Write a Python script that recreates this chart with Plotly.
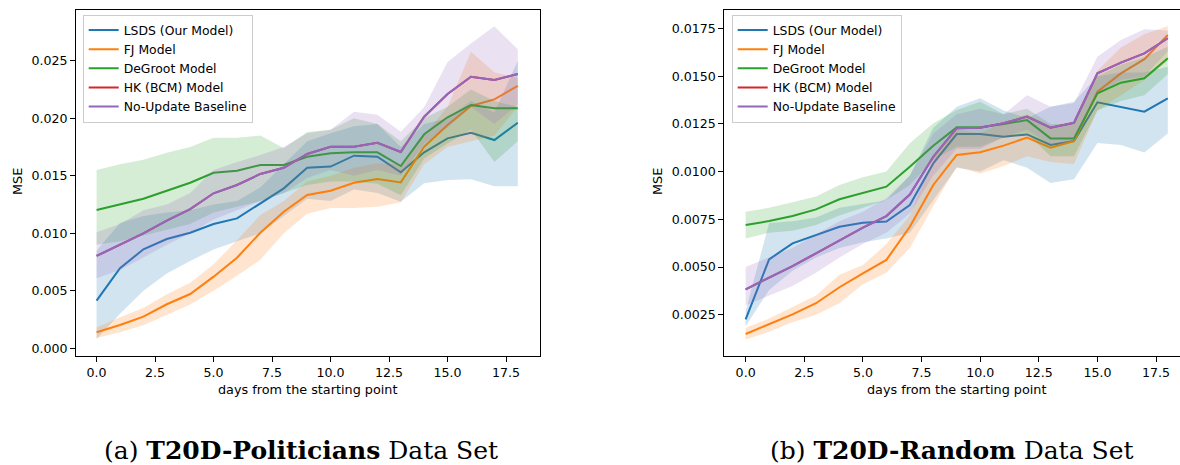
import plotly.graph_objects as go

days = list(range(19))
series_names = ["LSDS (Our Model)", "FJ Model", "DeGroot Model", "HK (BCM) Model", "No-Update Baseline"]
colors = ["#1f77b4", "#ff7f0e", "#2ca02c", "#d62728", "#9467bd"]
fills = ["rgba(31,119,180,0.2)", "rgba(255,127,14,0.2)", "rgba(44,160,44,0.2)", "rgba(214,39,40,0.2)", "rgba(148,103,189,0.2)"]

# ---------------- (a) T20D-Politicians ----------------
pol_lsds = [0.00414, 0.00696, 0.00861, 0.0095, 0.01005, 0.01081, 0.0113, 0.0126, 0.01391, 0.0157, 0.0158,
            0.01675, 0.01666, 0.0153, 0.01704, 0.01826, 0.01875, 0.01811, 0.01962]
pol_lsds_hi = [0.0085, 0.0109, 0.0115, 0.0118, 0.0120, 0.0125, 0.0128, 0.0140, 0.0160, 0.0180, 0.0187,
               0.0193, 0.0195, 0.0175, 0.0195, 0.0200, 0.0215, 0.0205, 0.0250]
pol_lsds_lo = [0.0008, 0.0030, 0.0050, 0.0065, 0.0076, 0.0086, 0.0093, 0.0100, 0.0115, 0.0130, 0.0128,
               0.0138, 0.0135, 0.01275, 0.01435, 0.01464, 0.0147, 0.0141, 0.0141]

pol_fj = [0.00139, 0.00203, 0.00275, 0.00383, 0.00472, 0.00623, 0.00788, 0.01005, 0.01188, 0.01333, 0.0137,
          0.0144, 0.01472, 0.01443, 0.01753, 0.01942, 0.02107, 0.02165, 0.02283]
pol_fj_hi = [0.0018, 0.0027, 0.0035, 0.0047, 0.0057, 0.0073, 0.0094, 0.0116, 0.0128, 0.0145, 0.0150,
             0.0157, 0.0161, 0.0160, 0.0185, 0.0210, 0.0258, 0.0240, 0.0235]
pol_fj_lo = [0.0009, 0.0014, 0.0020, 0.0029, 0.0038, 0.0050, 0.0063, 0.0077, 0.0100, 0.0117, 0.0122,
             0.0122, 0.0123, 0.0127, 0.0160, 0.0175, 0.0180, 0.0185, 0.0210]

pol_dg = [0.01203, 0.0125, 0.0130, 0.0137, 0.0144, 0.01527, 0.01544, 0.01594, 0.01594, 0.01666, 0.01696,
          0.01704, 0.01704, 0.01585, 0.01861, 0.02009, 0.02116, 0.02087, 0.02087]
pol_dg_hi = [0.0155, 0.0160, 0.0164, 0.0170, 0.0175, 0.0183, 0.0183, 0.0185, 0.0174, 0.0188, 0.0190,
             0.0200, 0.0195, 0.0180, 0.0200, 0.0210, 0.0225, 0.0215, 0.0210]
pol_dg_lo = [0.0090, 0.0093, 0.0098, 0.0103, 0.0108, 0.0118, 0.0123, 0.0128, 0.0135, 0.0142, 0.0145,
             0.0145, 0.0143, 0.0133, 0.0165, 0.0178, 0.0190, 0.0162, 0.0180]

pol_nu = [0.00803, 0.00898, 0.0100, 0.0111, 0.0121, 0.01348, 0.0142, 0.01516, 0.0157, 0.0169, 0.01753,
          0.01753, 0.01788, 0.01707, 0.02014, 0.02211, 0.02362, 0.02333, 0.02385]
pol_nu_hi = [0.0101, 0.0108, 0.0120, 0.0125, 0.0135, 0.0155, 0.0162, 0.0168, 0.0175, 0.0187, 0.0190,
             0.02057, 0.0203, 0.01883, 0.02096, 0.0249, 0.0265, 0.0280, 0.0260]
pol_nu_lo = [0.0061, 0.0068, 0.0079, 0.0090, 0.0100, 0.0112, 0.0120, 0.0128, 0.0135, 0.0148, 0.0155,
             0.0150, 0.0155, 0.0150, 0.0178, 0.0192, 0.0210, 0.0195, 0.0212]
pol_hk = pol_nu

# ---------------- (b) T20D-Random ----------------
rnd_lsds = [0.00226, 0.0054, 0.00624, 0.00668, 0.00711, 0.00732, 0.00738, 0.00825, 0.01043, 0.01197, 0.01197,
            0.01183, 0.01195, 0.0114, 0.0116, 0.01363, 0.01337, 0.01314, 0.01384]
rnd_lsds_hi = [0.0027, 0.0073, 0.0074, 0.0076, 0.0081, 0.0083, 0.0085, 0.0098, 0.0123, 0.0134, 0.01384,
               0.0132, 0.0128, 0.0134, 0.01366, 0.0150, 0.0152, 0.0152, 0.0155]
rnd_lsds_lo = [0.0019, 0.0038, 0.0048, 0.0055, 0.0060, 0.0063, 0.0065, 0.0068, 0.0085, 0.0102, 0.0100,
               0.0106, 0.0102, 0.0094, 0.0096, 0.0115, 0.0114, 0.0110, 0.0120]

rnd_fj = [0.00149, 0.00201, 0.00252, 0.0031, 0.00394, 0.00467, 0.00537, 0.00711, 0.0093, 0.01087, 0.01101,
          0.01136, 0.01178, 0.01125, 0.0116, 0.01419, 0.01515, 0.01589, 0.01716]
rnd_fj_hi = [0.0018, 0.0023, 0.0029, 0.0035, 0.0046, 0.0051, 0.0062, 0.0077, 0.0107, 0.0122, 0.0120,
             0.0126, 0.0130, 0.0124, 0.0126, 0.0153, 0.0165, 0.0172, 0.01763]
rnd_fj_lo = [0.0012, 0.0016, 0.0021, 0.0025, 0.0031, 0.0041, 0.0047, 0.0060, 0.0082, 0.01026, 0.0099,
             0.0103, 0.0108, 0.0105, 0.0104, 0.0132, 0.0140, 0.0148, 0.0158]

rnd_dg = [0.0072, 0.00741, 0.00767, 0.00802, 0.00855, 0.0089, 0.00921, 0.01026, 0.01136, 0.01232, 0.01232,
          0.0125, 0.0127, 0.01174, 0.01174, 0.0141, 0.01466, 0.01489, 0.01594]
rnd_dg_hi = [0.0079, 0.0081, 0.0084, 0.0087, 0.0093, 0.0097, 0.0100, 0.01148, 0.01253, 0.01323, 0.01366,
             0.0130, 0.0133, 0.0125, 0.0125, 0.0150, 0.0156, 0.0160, 0.01655]
rnd_dg_lo = [0.0065, 0.0068, 0.0069, 0.0072, 0.0077, 0.0081, 0.0085, 0.0093, 0.0106, 0.0113, 0.0113,
             0.0118, 0.0120, 0.0108, 0.0108, 0.0132, 0.0137, 0.0140, 0.0151]

rnd_nu = [0.00383, 0.00444, 0.00505, 0.00572, 0.00641, 0.00706, 0.00767, 0.0088, 0.01078, 0.01227, 0.0123,
          0.01253, 0.01288, 0.0123, 0.01256, 0.01515, 0.01571, 0.0162, 0.01699]
rnd_nu_hi = [0.0050, 0.0055, 0.0060, 0.0067, 0.0074, 0.0079, 0.0086, 0.0098, 0.0120, 0.0130, 0.0133,
             0.0130, 0.0140, 0.0134, 0.01358, 0.01602, 0.0169, 0.01746, 0.0174]
rnd_nu_lo = [0.0030, 0.0035, 0.0040, 0.0047, 0.0055, 0.0062, 0.0068, 0.0078, 0.0098, 0.0112, 0.0112,
             0.0118, 0.0122, 0.0114, 0.0116, 0.0141, 0.0148, 0.0150, 0.0163]
rnd_hk = rnd_nu

x_ticks = [0, 2.5, 5, 7.5, 10, 12.5, 15, 17.5]
pol_yticks = [0.0, 0.005, 0.010, 0.015, 0.020, 0.025]
rnd_yticks = [0.0025, 0.0050, 0.0075, 0.0100, 0.0125, 0.0150, 0.0175]

captions = ["(a) <b>T20D-Politicians</b> Data Set", "(b) <b>T20D-Random</b> Data Set"]
xlabel = "days from the starting point"
ylabel = "MSE"

fig = go.Figure()

panels = [
    ("x", "y", "legend",
     [pol_lsds, pol_fj, pol_dg, pol_hk, pol_nu],
     [(pol_lsds_lo, pol_lsds_hi), (pol_fj_lo, pol_fj_hi), (pol_dg_lo, pol_dg_hi), None, (pol_nu_lo, pol_nu_hi)]),
    ("x2", "y2", "legend2",
     [rnd_lsds, rnd_fj, rnd_dg, rnd_hk, rnd_nu],
     [(rnd_lsds_lo, rnd_lsds_hi), (rnd_fj_lo, rnd_fj_hi), (rnd_dg_lo, rnd_dg_hi), None, (rnd_nu_lo, rnd_nu_hi)]),
]

for xa, ya, lg, means, bands in panels:
    for i, name in enumerate(series_names):
        fig.add_trace(go.Scatter(x=days, y=means[i], mode="lines", name=name,
                                 line=dict(color=colors[i], width=2),
                                 xaxis=xa, yaxis=ya, legend=lg, hoverinfo="skip"))
        if bands[i] is not None:
            lo, hi = bands[i]
            fig.add_trace(go.Scatter(x=days + days[::-1], y=hi + lo[::-1], mode="lines",
                                     fill="toself", fillcolor=fills[i], line=dict(width=0),
                                     xaxis=xa, yaxis=ya, showlegend=False, hoverinfo="skip"))

W, H = 1180, 465
tick_font = dict(family="DejaVu Sans", size=12.6, color="#000")
ydom = [(H - 356) / H, (H - 10) / H]

def xaxis(dom, rng, anchor):
    return dict(domain=dom, range=rng, anchor=anchor, tickvals=x_ticks, tickformat=".1f",
                ticks="outside", ticklen=5, tickwidth=1, tickcolor="#000",
                showline=True, linecolor="#000", linewidth=1, mirror=True,
                showgrid=False, zeroline=False, tickfont=tick_font)

def yaxis(dom, rng, anchor, vals, fmt, mirror):
    return dict(domain=dom, range=rng, anchor=anchor, tickvals=vals, tickformat=fmt,
                ticks="outside", ticklen=5, tickwidth=1, tickcolor="#000",
                showline=True, linecolor="#000", linewidth=1, mirror=mirror,
                showgrid=False, zeroline=False, tickfont=tick_font)

legend_style = dict(xanchor="left", yanchor="top", bgcolor="rgba(255,255,255,0.8)",
                    bordercolor="#cccccc", borderwidth=1,
                    font=dict(family="DejaVu Sans", size=12.4, color="#000"),
                    tracegroupgap=0, itemwidth=30)

fig.update_layout(
    width=W, height=H, margin=dict(l=0, r=0, t=0, b=0),
    plot_bgcolor="white", paper_bgcolor="white",
    xaxis=xaxis([76 / W, 540 / W], [-0.88, 18.95], "y"),
    yaxis=yaxis(ydom, [-0.00067, 0.02942], "x", pol_yticks, ".3f", True),
    xaxis2=xaxis([724.3 / W, 1.0], [-0.91, 18.52], "y2"),
    yaxis2=yaxis(ydom, [0.000335, 0.01847], "x2", rnd_yticks, ".4f", False),
    legend=dict(x=82.7 / W, y=1 - 14.5 / H, **legend_style),
    legend2=dict(x=731.7 / W, y=1 - 14.5 / H, **legend_style),
    showlegend=True,
)

ann_font = dict(family="DejaVu Sans", size=12.8, color="#000")
cap_font = dict(family="DejaVu Serif", size=25, color="#000")
annotations = [
    dict(text=xlabel, x=308 / W, y=1 - 389 / H, xref="paper", yref="paper", showarrow=False,
         xanchor="center", yanchor="middle", font=ann_font),
    dict(text=xlabel, x=956.7 / W, y=1 - 389 / H, xref="paper", yref="paper", showarrow=False,
         xanchor="center", yanchor="middle", font=ann_font),
    dict(text=ylabel, x=18 / W, y=1 - 182 / H, xref="paper", yref="paper", showarrow=False,
         xanchor="center", yanchor="middle", textangle=-90, font=ann_font),
    dict(text=ylabel, x=658 / W, y=1 - 182 / H, xref="paper", yref="paper", showarrow=False,
         xanchor="center", yanchor="middle", textangle=-90, font=ann_font),
    dict(text=captions[0], x=301 / W, y=1 - 450 / H, xref="paper", yref="paper", showarrow=False,
         xanchor="center", yanchor="middle", font=cap_font),
    dict(text=captions[1], x=951 / W, y=1 - 450 / H, xref="paper", yref="paper", showarrow=False,
         xanchor="center", yanchor="middle", font=cap_font),
]
fig.update_layout(annotations=annotations)

fig.write_html("out.html")
